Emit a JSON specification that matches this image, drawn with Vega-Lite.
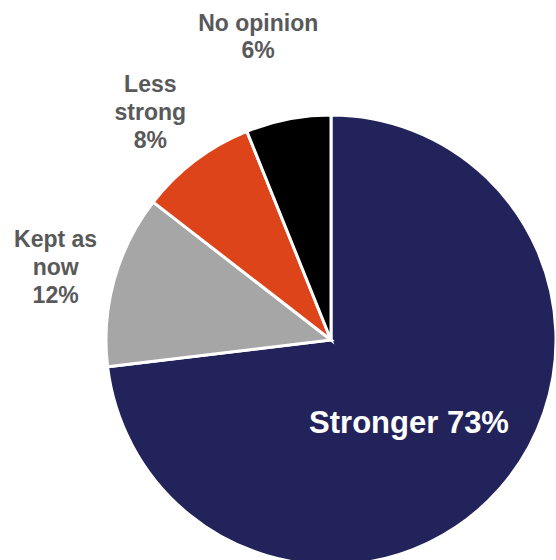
{
  "$schema": "https://vega.github.io/schema/vega-lite/v6.json",
  "width": 450,
  "height": 450,
  "autosize": "none",
  "padding": {"left": 106, "top": 115, "right": 0, "bottom": -5},
  "background": "white",
  "config": {"view": {"stroke": null}, "font": "Liberation Sans"},
  "data": {"values": [
    {"category": "Stronger", "order": 1, "value": 73.1, "label": "Stronger 73%"},
    {"category": "Kept as now", "order": 2, "value": 12.4, "label": "Kept as\nnow\n12%"},
    {"category": "Less strong", "order": 3, "value": 8.4, "label": "Less\nstrong\n8%"},
    {"category": "No opinion", "order": 4, "value": 6.1, "label": "No opinion\n6%"}
  ]},
  "encoding": {
    "theta": {"field": "value", "type": "quantitative", "stack": true},
    "order": {"field": "order", "type": "quantitative"}
  },
  "layer": [
    {
      "mark": {"type": "arc", "radius": 225, "stroke": "white", "strokeWidth": 3},
      "encoding": {
        "color": {"field": "category", "type": "nominal", "legend": null,
          "scale": {"domain": ["Stronger", "Kept as now", "Less strong", "No opinion"],
                    "range": ["#23235B", "#A6A6A6", "#DD4419", "#000000"]}}
      }
    },
    {
      "mark": {"type": "text", "radius": 115, "fontSize": 31, "fontWeight": "bold", "color": "white", "align": "center", "baseline": "middle", "dx": -8, "dy": 8},
      "encoding": {"text": {"condition": {"test": "datum.category !== 'Stronger'", "value": ""}, "field": "label"}}
    },
    {
      "mark": {"type": "text", "radius": 293, "fontSize": 23, "fontWeight": "bold", "color": "#595959", "align": "center", "baseline": "middle", "lineBreak": "\n", "lineHeight": 28, "dx": 7, "dy": -22},
      "encoding": {"text": {"condition": {"test": "datum.category !== 'Kept as now'", "value": ""}, "field": "label"}}
    },
    {
      "mark": {"type": "text", "radius": 293, "fontSize": 23, "fontWeight": "bold", "color": "#595959", "align": "center", "baseline": "middle", "lineBreak": "\n", "lineHeight": 28, "dx": -4, "dy": -21},
      "encoding": {"text": {"condition": {"test": "datum.category !== 'Less strong'", "value": ""}, "field": "label"}}
    },
    {
      "mark": {"type": "text", "radius": 293, "fontSize": 23, "fontWeight": "bold", "color": "#595959", "align": "center", "baseline": "middle", "lineBreak": "\n", "lineHeight": 27, "dx": -17, "dy": -28},
      "encoding": {"text": {"condition": {"test": "datum.category !== 'No opinion'", "value": ""}, "field": "label"}}
    }
  ]
}
